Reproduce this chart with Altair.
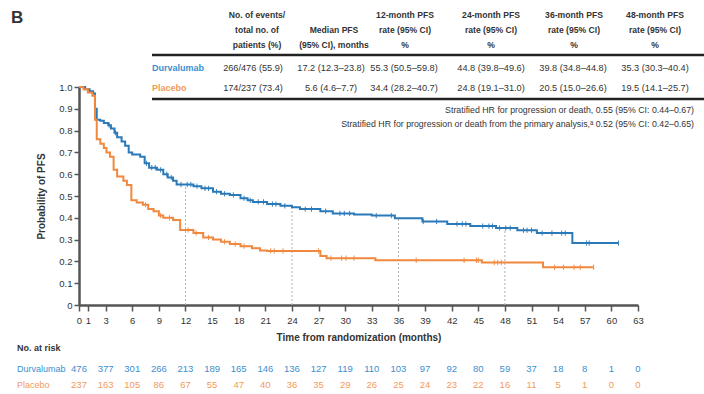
import altair as alt
import pandas as pd

# ---------------- data ----------------
durva_t = [0, 0.7, 1.2, 1.6, 1.8, 2.0, 2.4, 2.8, 3.3, 3.6, 4.0, 4.3, 4.8, 5.2, 5.6, 6.0, 6.9, 7.4, 7.9,
           8.8, 9.5, 10.0, 10.6, 11.0, 12.9, 13.8, 15.1, 16.0, 17.0, 18.2, 19.0, 19.6, 21.2, 22.7, 24.0,
           24.9, 27.2, 28.6, 31.0, 33.0, 35.6, 38.7, 41.5, 44.1, 47.0, 49.4, 51.6, 55.6, 60.8]
durva_s = [1.0, 0.99, 0.98, 0.97, 0.90, 0.85, 0.845, 0.835, 0.825, 0.81, 0.79, 0.77, 0.75, 0.73, 0.70,
           0.69, 0.68, 0.65, 0.63, 0.62, 0.60, 0.585, 0.57, 0.553, 0.545, 0.535, 0.52, 0.51, 0.505, 0.49,
           0.48, 0.473, 0.463, 0.455, 0.448, 0.44, 0.43, 0.42, 0.415, 0.41, 0.398, 0.383, 0.372, 0.362,
           0.353, 0.343, 0.33, 0.284, 0.284]
placebo_t = [0, 0.5, 1.0, 1.5, 1.8, 2.0, 2.4, 2.8, 3.1, 3.5, 3.9, 4.3, 5.0, 5.4, 5.9, 6.5, 7.2, 7.8, 8.4,
             9.0, 9.5, 10.6, 11.4, 12.9, 14.0, 15.1, 16.0, 17.0, 18.2, 19.5, 20.4, 21.2, 27.2, 27.9, 33.4,
             45.4, 52.3, 58.0]
placebo_s = [1.0, 0.99, 0.975, 0.96, 0.85, 0.76, 0.74, 0.72, 0.70, 0.68, 0.62, 0.59, 0.57, 0.55, 0.48,
             0.47, 0.46, 0.44, 0.43, 0.41, 0.40, 0.39, 0.344, 0.33, 0.31, 0.30, 0.29, 0.28, 0.27, 0.26,
             0.25, 0.248, 0.225, 0.215, 0.205, 0.195, 0.173, 0.173]
durva_cens = [3.4, 4.1, 7.6, 8.2, 8.6, 9.2, 9.9, 10.4, 11.5, 12.2, 12.6, 13.3, 14.2, 14.6, 15.5, 16.4,
              17.4, 18.6, 19.3, 20.2, 20.8, 21.8, 22.2, 23.2, 25.5, 26.2, 27.8, 29.4, 29.9, 30.5, 33.5,
              35.2, 38.8, 40.3, 42.6, 43.2, 43.6, 45.5, 46.2, 46.6, 47.4, 48.1, 48.6, 50.1, 50.5, 51.0,
              52.2, 53.3, 54.4, 54.8, 57.2, 57.5, 60.8]
placebo_cens = [7.5, 9.2, 10.2, 12.3, 13.2, 14.6, 16.4, 17.6, 18.6, 21.6, 22.0, 23.0, 27.0, 28.4, 29.6,
                30.1, 31.0, 38.0, 43.4, 44.8, 45.0, 46.8, 47.2, 47.6, 53.6, 54.6, 55.8, 56.5, 58.0]
landmark_months = [12, 24, 36, 48]
durva_landmark = [0.553, 0.448, 0.398, 0.353]
x_ticks = [0, 1, 3, 6, 9, 12, 15, 18, 21, 24, 27, 30, 33, 36, 39, 42, 45, 48, 51, 54, 57, 60, 63]
risk_months = [0, 3, 6, 9, 12, 15, 18, 21, 24, 27, 30, 33, 36, 39, 42, 45, 48, 51, 54, 57, 60, 63]
durva_risk = [476, 377, 301, 266, 213, 189, 165, 146, 136, 127, 119, 110, 103, 97, 92, 80, 59, 37, 18, 8, 1, 0]
placebo_risk = [237, 163, 105, 86, 67, 55, 47, 40, 36, 35, 29, 26, 25, 24, 23, 22, 16, 11, 5, 1, 0, 0]
header_cols = [["No. of events/", "total no. of", "patients (%)"],
               ["Median PFS", "(95% CI), months"],
               ["12-month PFS", "rate (95% CI)", "%"],
               ["24-month PFS", "rate (95% CI)", "%"],
               ["36-month PFS", "rate (95% CI)", "%"],
               ["48-month PFS", "rate (95% CI)", "%"]]
durva_row = ["266/476 (55.9)", "17.2 (12.3\u201323.8)", "55.3 (50.5\u201359.8)", "44.8 (39.8\u201349.6)",
             "39.8 (34.8\u201344.8)", "35.3 (30.3\u201340.4)"]
placebo_row = ["174/237 (73.4)", "5.6 (4.6\u20137.7)", "34.4 (28.2\u201340.7)", "24.8 (19.1\u201331.0)",
               "20.5 (15.0\u201326.6)", "19.5 (14.1\u201325.7)"]
hr_lines = ["Stratified HR for progression or death, 0.55 (95% CI: 0.44\u20130.67)",
            "Stratified HR for progression or death from the primary analysis,\u1d43 0.52 (95% CI: 0.42\u20130.65)"]
arms = ["Durvalumab", "Placebo"]

# ---------------- style ----------------
BLUE = "#2a79b9"
ORANGE = "#f0883e"
BLUE_T = "#3b8fd0"
ORANGE_T = "#f39a5a"
DARK = "#333333"
FONT = "Liberation Sans, Arial, sans-serif"
L, T, W, H = 79, 87, 559, 218


def px(x):
    return x - L


def py(y):
    return y - T


def surv_at(ts, ss, t):
    v = ss[0]
    for ti, si in zip(ts, ss):
        if ti <= t:
            v = si
    return v


curves = pd.DataFrame(
    [{"time": t, "surv": s, "arm": arms[0]} for t, s in zip(durva_t, durva_s)]
    + [{"time": t, "surv": s, "arm": arms[1]} for t, s in zip(placebo_t, placebo_s)]
)
cens = pd.DataFrame(
    [{"time": t, "surv": surv_at(durva_t, durva_s, t), "arm": arms[0]} for t in durva_cens]
    + [{"time": t, "surv": surv_at(placebo_t, placebo_s, t), "arm": arms[1]} for t in placebo_cens]
)
landmarks = pd.DataFrame({"time": landmark_months, "surv": durva_landmark, "zero": [0] * 4})
risk = pd.DataFrame(
    [{"time": m, "n": str(n), "arm": arms[0]} for m, n in zip(risk_months, durva_risk)]
    + [{"time": m, "n": str(n), "arm": arms[1]} for m, n in zip(risk_months, placebo_risk)]
)

xscale = alt.Scale(domain=[0, 63], nice=False, zero=False)
yscale = alt.Scale(domain=[0, 1], nice=False)
cscale = alt.Scale(domain=arms, range=[BLUE, ORANGE])

xaxis = alt.Axis(values=x_ticks, title="Time from randomization (months)", grid=False,
                 labelOverlap=False, labelFlush=False,
                 tickSize=6, tickWidth=1.5, tickColor="#555", domainColor="#555", domainWidth=2.5,
                 labelFontSize=9.5, labelColor=DARK, labelFont=FONT, labelPadding=4,
                 titleFont=FONT, titleFontSize=10, titleFontWeight="bold", titleColor=DARK,
                 titlePadding=8)
yaxis = alt.Axis(values=[i / 10 for i in range(11)], title="Probability of PFS", grid=False,
                 labelOverlap=False, labelFlush=False,
                 labelExpr="datum.value == 0 ? '0' : format(datum.value, '.1f')",
                 tickSize=5, tickWidth=1.5, tickColor="#555", domainColor="#555", domainWidth=2.5,
                 labelFontSize=9.5, labelColor=DARK, labelFont=FONT, labelPadding=2,
                 titleFont=FONT, titleFontSize=10, titleFontWeight="bold", titleColor=DARK,
                 titlePadding=12)

landmark_layer = alt.Chart(landmarks).mark_rule(strokeDash=[2, 2], color="#b0b0b0", strokeWidth=1).encode(
    x=alt.X("time:Q", scale=xscale, axis=xaxis),
    y=alt.Y("zero:Q", scale=yscale, axis=yaxis),
    y2="surv:Q",
)
curve_layer = alt.Chart(curves).mark_line(interpolate="step-after", strokeWidth=2).encode(
    x=alt.X("time:Q", scale=xscale, axis=xaxis),
    y=alt.Y("surv:Q", scale=yscale, axis=yaxis),
    color=alt.Color("arm:N", scale=cscale, legend=None),
    detail="arm:N",
)
cens_layer = alt.Chart(cens).mark_point(shape="M0,-1L0,1", size=28, strokeWidth=1, filled=False, opacity=0.9).encode(
    x=alt.X("time:Q", scale=xscale, axis=xaxis),
    y=alt.Y("surv:Q", scale=yscale, axis=yaxis),
    color=alt.Color("arm:N", scale=cscale, legend=None),
)

risk_layers = []
for arm, yy, col in [(arms[0], 369, BLUE_T), (arms[1], 385, ORANGE_T)]:
    risk_layers.append(
        alt.Chart(risk[risk.arm == arm]).mark_text(fontSize=9.5, font=FONT, color=col, baseline="middle").encode(
            x=alt.X("time:Q", scale=xscale, axis=xaxis), y=alt.value(py(yy)), text="n:N")
    )
    risk_layers.append(
        alt.Chart(pd.DataFrame({"t": [arm]})).mark_text(fontSize=9, font=FONT, color=col, align="left",
                                                        baseline="middle").encode(
            x=alt.value(px(17)), y=alt.value(py(yy)), text="t:N")
    )


def label(text, x, y, **kw):
    params = dict(font=FONT, fontSize=9.2, color=DARK, baseline="middle")
    params.update(kw)
    return alt.Chart(pd.DataFrame({"t": [text]})).mark_text(**params).encode(
        x=alt.value(px(x)), y=alt.value(py(y)), text="t:N")


text_layers = [label("No. at risk", 17, 348, align="left", fontWeight="bold", fontSize=9),
               label("B", 11, 18, align="left", fontWeight="bold", fontSize=17)]

header_x = [257, 334, 405, 491, 574, 655]
value_x = [253, 331, 404, 491, 573, 655]
for cx, lines in zip(header_x, header_cols):
    ys = [15, 30, 45][3 - len(lines):]
    for ln, yy in zip(lines, ys):
        text_layers.append(label(ln, cx, yy, fontWeight="bold", fontSize=8.6))
for cx, v in zip(value_x, durva_row):
    text_layers.append(label(v, cx, 68))
for cx, v in zip(value_x, placebo_row):
    text_layers.append(label(v, cx, 88))
text_layers.append(label(arms[0], 152, 68, align="left", fontWeight="bold", color=BLUE_T, fontSize=9))
text_layers.append(label(arms[1], 152, 88, align="left", fontWeight="bold", color=ORANGE_T, fontSize=9))
for ln, yy in zip(hr_lines, [110, 124]):
    text_layers.append(label(ln, 694, yy, align="right", fontSize=8.8))

rule_layers = []
for yy, w in [(55, 2.5), (99, 2.5)]:
    rule_layers.append(
        alt.Chart(pd.DataFrame({"a": [0]})).mark_rule(color="#222", strokeWidth=w).encode(
            x=alt.value(px(152)), x2=alt.value(px(704)), y=alt.value(py(yy)))
    )

chart = alt.layer(
    landmark_layer, curve_layer, cens_layer, *risk_layers, *text_layers, *rule_layers
).properties(
    width=W, height=H,
    padding={"left": L, "top": T, "right": 704 - L - W, "bottom": 394 - T - H},
    autosize=alt.AutoSizeParams(type="none"),
    background="white",
).configure_view(stroke=None).configure_axis(labelOverlap=False)

chart.save("out.html", embed_options={"renderer": "svg", "actions": False})
